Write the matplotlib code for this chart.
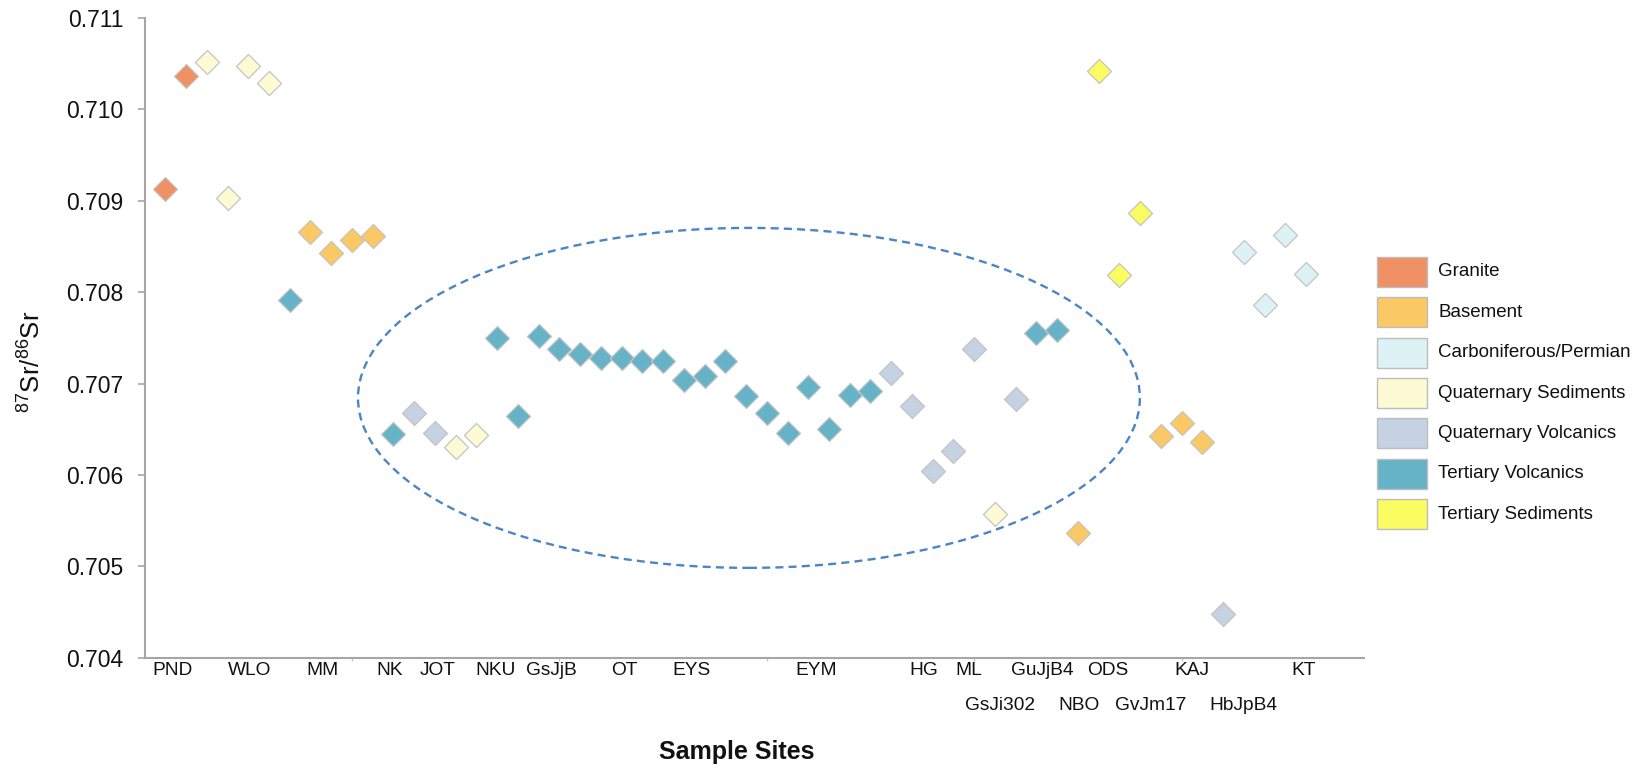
import numpy as np
import matplotlib
matplotlib.use("Agg")
import matplotlib.pyplot as plt
from matplotlib.patches import Ellipse, Rectangle
from matplotlib.transforms import blended_transform_factory

plt.rcParams['font.family'] = ['Liberation Sans', 'DejaVu Sans']
plt.rcParams['mathtext.default'] = 'regular'

# ---------------- data ----------------
rock_types = ["Granite", "Basement", "Carboniferous/Permian", "Quaternary Sediments",
              "Quaternary Volcanics", "Tertiary Volcanics", "Tertiary Sediments"]
rock_colors = ["#EF9164", "#FAC864", "#DDF2F5", "#FDFBD4", "#C4D2E2", "#66B3C8", "#FBFB62"]

# rock type code (index into rock_types) for each sample, left to right
sample_type = [0, 0, 3, 3, 3, 3, 5, 1, 1, 1, 1, 5, 4, 4, 3, 3,
               5, 5, 5, 5, 5, 5, 5, 5, 5, 5, 5, 5, 5, 5, 5, 5, 5, 5, 5,
               4, 4, 4, 4, 4, 3, 4, 5, 5, 1, 6, 6, 6, 1, 1, 1, 4, 2, 2, 2, 2]
sr_ratio = [0.70913, 0.71037, 0.71052, 0.70903, 0.71047, 0.71029, 0.70791, 0.70866,
            0.70843, 0.70857, 0.70861, 0.70645, 0.70668, 0.70646, 0.70631, 0.70644,
            0.70750, 0.70664, 0.70752, 0.70738, 0.70732, 0.70728, 0.70728, 0.70725,
            0.70725, 0.70704, 0.70708, 0.70725, 0.70686, 0.70668, 0.70646, 0.70696,
            0.70650, 0.70688, 0.70692, 0.70711, 0.70675, 0.70604, 0.70626, 0.70738,
            0.70557, 0.70683, 0.70755, 0.70759, 0.70537, 0.71042, 0.70819, 0.70887,
            0.70643, 0.70657, 0.70636, 0.70448, 0.70844, 0.70786, 0.70862, 0.70820]

# site labels on the x axis (first row and second row) with their positions
site_labels_row1 = ["PND", "WLO", "MM", "NK", "JOT", "NKU", "GsJjB", "OT", "EYS", "EYM",
                    "HG", "ML", "GuJjB4", "ODS", "KAJ", "KT"]
site_pos_row1 = [1.34, 5.08, 8.59, 11.83, 14.11, 16.90, 19.60, 23.13, 26.38, 32.37,
                 37.55, 39.75, 43.27, 46.45, 50.48, 55.88]
site_labels_row2 = ["GsJi302", "NBO", "GvJm17", "HbJpB4"]
site_pos_row2 = [41.26, 45.04, 48.53, 53.00]

y_ticks = [0.704, 0.705, 0.706, 0.707, 0.708, 0.709, 0.710, 0.711]

# dashed ellipse grouping (center x, center y, width, height in data units)
ell_center = (29.14, 0.706843)
ell_width = 37.7
ell_height = 0.00372

# ---------------- figure ----------------
W, H = 1639, 769
fig = plt.figure(figsize=(W / 100, H / 100), dpi=100)
ax = fig.add_axes([144.56 / W, 111.3 / H, 58.8 * 20.74 / W, 639.7 / H])

x = np.arange(1, len(sr_ratio) + 1)
types = np.array(sample_type)
vals = np.array(sr_ratio)
for k, (name, col) in enumerate(zip(rock_types, rock_colors)):
    m = types == k
    if m.any():
        ax.scatter(x[m], vals[m], marker='D', s=150, facecolor=col,
                   edgecolor='#c4c4c4', linewidth=0.9, zorder=3, label=name)

ax.add_patch(Ellipse(ell_center, ell_width, ell_height, fill=False,
                     edgecolor='#4A85C6', linewidth=1.7,
                     linestyle=(0, (3.4, 2.2)), zorder=2))

ax.set_xlim(0, 58.8)
ax.set_ylim(0.704, 0.711)
ax.set_yticks(y_ticks)
ax.set_yticklabels([f"{v:.3f}" for v in y_ticks])
ax.set_xticks([10, 20, 30, 40, 50])
ax.set_xticklabels([])
ax.tick_params(axis='y', length=5, width=1.2, color='#a6a6a6', pad=10,
               labelsize=16.5, labelcolor='#111111')
ax.tick_params(axis='x', length=2.5, width=1.0, color='#c8c8c8')
for s in ['top', 'right']:
    ax.spines[s].set_visible(False)
for s in ['left', 'bottom']:
    ax.spines[s].set_color('#a6a6a6')
    ax.spines[s].set_linewidth(1.5)

trans = blended_transform_factory(ax.transData, ax.transAxes)
for lab, p in zip(site_labels_row1, site_pos_row1):
    ax.text(p, -0.0203, lab, transform=trans, ha='center', va='center',
            fontsize=13.8, color='#111111')
for lab, p in zip(site_labels_row2, site_pos_row2):
    ax.text(p, -0.0749, lab, transform=trans, ha='center', va='center',
            fontsize=13.8, color='#111111')

fig.text(736.7 / W, 1 - 751.7 / H, "Sample Sites", ha='center', va='center',
         fontsize=18, fontweight='bold', color='#111111')
fig.text(32 / W, 1 - 362 / H, r"$^{87}$Sr/$^{86}$Sr", rotation=90,
         ha='center', va='center', fontsize=18.5, color='#111111')

# legend: colour swatches with labels
sw_left, sw_w, sw_h = 1377, 50, 30
row0, pitch = 271.8, 40.4
text_left = 1438
for i, (name, col) in enumerate(zip(rock_types, rock_colors)):
    cy = row0 + i * pitch
    fig.add_artist(Rectangle((sw_left / W, 1 - (cy + sw_h / 2) / H), sw_w / W, sw_h / H,
                             transform=fig.transFigure, facecolor=col,
                             edgecolor='#bdbdbd', linewidth=1.0))
    fig.text(text_left / W, 1 - cy / H, name, ha='left', va='center',
             fontsize=13.5, color='#111111')

fig.savefig("out.png", dpi=100, facecolor='white')
